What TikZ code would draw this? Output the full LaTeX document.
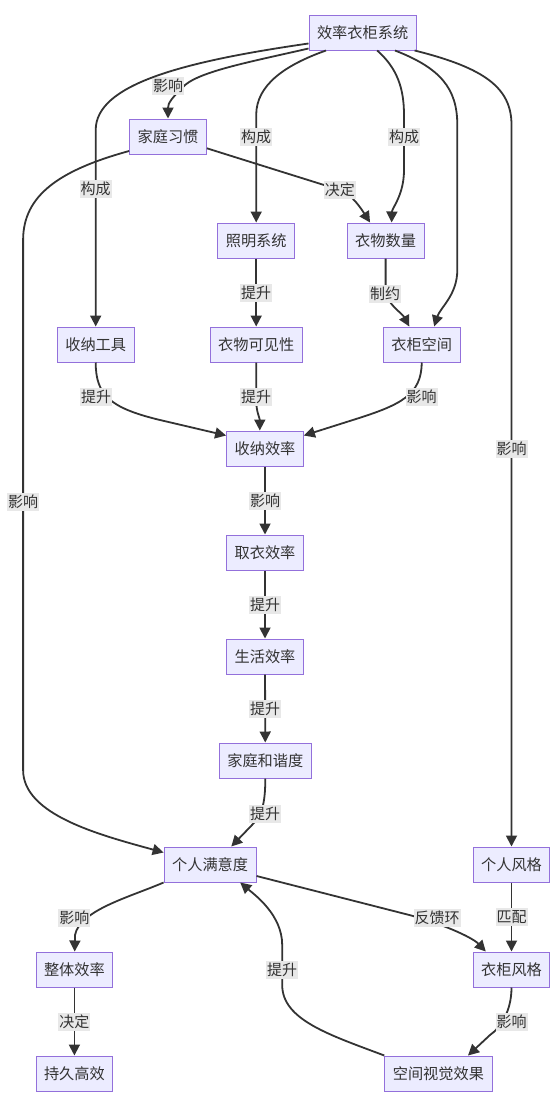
\documentclass[tikz,border=0pt]{standalone}
\usepackage{fontspec}
\newfontfamily\cjk{Noto Sans CJK SC}
\usetikzlibrary{arrows.meta,calc}
\definecolor{nodefill}{HTML}{ECECFF}
\definecolor{nodeborder}{HTML}{9370DB}
\definecolor{edgecol}{HTML}{333333}
\definecolor{lblfill}{HTML}{E8E8E8}
\begin{document}
\begin{tikzpicture}[x=1pt,y=-1pt,
  box/.style={draw=nodeborder, fill=nodefill, line width=1pt, minimum height=35pt,
    inner xsep=8pt, inner ysep=0pt, text=edgecol, font=\cjk\fontsize{15.2}{18}\selectfont},
  lbl/.style={fill=lblfill, inner xsep=1pt, inner ysep=1pt, minimum height=18pt,
    text=edgecol, font=\cjk\fontsize{15}{18}\selectfont},
  link/.style={draw=edgecol, line width=1.8pt, -{Triangle[length=11pt,width=11pt]}}
]
\useasboundingbox (0,0) rectangle (558,1106);

\node[box] (sys) at (362.6,32.5) {效率衣柜系统};
\node[box] (hab) at (168,136.5) {家庭习惯};
\node[box] (light) at (256.2,240.5) {照明系统};
\node[box] (qty) at (385.6,240.5) {衣物数量};
\node[box] (tool) at (95.7,344.5) {收纳工具};
\node[box] (vis) at (256.2,344.5) {衣物可见性};
\node[box] (space) at (421.7,344.5) {衣柜空间};
\node[box] (seff) at (265,448.5) {收纳效率};
\node[box] (teff) at (265,552.5) {取衣效率};
\node[box] (leff) at (265,656.5) {生活效率};
\node[box] (harm) at (265.3,760.5) {家庭和谐度};
\node[box] (sat) at (210.1,864.5) {个人满意度};
\node[box] (pstyle) at (511.5,864.5) {个人风格};
\node[box] (oeff) at (74.4,969.5) {整体效率};
\node[box] (wstyle) at (511.5,969.5) {衣柜风格};
\node[box] (last) at (74.4,1073.5) {持久高效};
\node[box] (visual) at (438.4,1073.5) {空间视觉效果};

% from the system node
\draw[link] ($(sys.south west)+(0,-2)$) .. controls (250,62) and (195,72) .. (182,88)
  .. controls (172,98) and (168,103) .. (168,108) -- (hab)
  node[lbl] at (168.2,86) {影响};
\draw[link] ($(sys.south west)+(0,-7)$) .. controls (180,62) and (95.7,85) .. (95.7,130) -- (tool)
  node[lbl] at (95.7,189) {构成};
\draw[link] ($(sys.south)+(-36.6,0)$) .. controls (285,65) and (256.2,85) .. (256.2,115) -- (light)
  node[lbl] at (256.2,137) {构成};
\draw[link] ($(sys.south)+(14.6,0)$) .. controls (397,68) and (404,88) .. (404,115) -- (404,170)
  .. controls (404,195) and (392,208) .. ($(qty.north)+(6,0)$)
  node[lbl] at (404,137) {构成};
\draw[link] ($(sys.south)+(32.4,0)$) .. controls (440,68) and (457.3,88) .. (457.3,125) -- (457.3,270)
  .. controls (457.3,295) and (440,308) .. ($(space.north)+(12.5,0)$);
\draw[link] ($(sys.south)+(52,0)$) .. controls (485,68) and (511.5,88) .. (511.5,125) -- (pstyle)
  node[lbl] at (511.5,449) {影响};

% from household habits
\draw[link] ($(hab.east)+(0,11.8)$) .. controls (260,165) and (310,180.6) .. (340,190)
  .. controls (352,194) and (362,210) .. ($(qty.north)+(-15.5,0)$)
  node[lbl] at (339.9,190) {决定};
\draw[link] ($(hab.west)+(0,14.5)$) .. controls (60,170) and (23.1,195) .. (23.1,240) -- (23.1,770)
  .. controls (23.1,815) and (100,835) .. ($(sat.west)+(0,-12)$)
  node[lbl] at (23.1,502) {影响};

% second row
\draw[link] (light) -- (vis) node[lbl,midway] {提升};
\draw[link] (qty.south) -- (385.6,292) .. controls (388,305) and (402,313) .. ($(space.north)+(-12.4,0)$)
  node[lbl] at (385,294) {制约};

% into storage efficiency
\draw[link] (tool.south) .. controls (95.7,395) and (110,408) .. (160,420) -- ($(seff.west)+(0,-13)$)
  node[lbl] at (96.2,397) {提升};
\draw[link] (vis.south) -- (256.2,400) .. controls (256.2,412) and (259.8,418) .. ($(seff.north)+(-5.2,0)$)
  node[lbl] at (256.2,397) {提升};
\draw[link] (space.south) .. controls (421.7,395) and (400,405) .. (356,419) -- ($(seff.east)+(0,-13)$)
  node[lbl] at (421.7,397) {影响};

% central chain
\draw[link] (seff) -- (teff) node[lbl,midway] {影响};
\draw[link] (teff) -- (leff) node[lbl,midway] {提升};
\draw[link] (leff) -- (harm) node[lbl,midway] {提升};
\draw[link] (harm.south) .. controls (265.3,800) and (263,815) .. (252,825) -- ($(sat.north)+(21.2,0)$)
  node[lbl] at (265.1,814) {提升};

% lower part
\draw[link] (sat.south west) .. controls (130,897) and (80,910) .. (75,935) -- (oeff)
  node[lbl] at (74.4,918) {影响};
\draw[link] (oeff) -- (last) node[lbl,midway] {决定};
\draw[link] ($(sat.east)+(0,11.5)$) -- (409.3,915) .. controls (440,923) and (472,937) .. ($(wstyle.north)+(-25.7,0)$)
  node[lbl] at (437,918) {反馈环};
\draw[link] (pstyle) -- (wstyle) node[lbl,midway] {匹配};
\draw[link] (wstyle.south) .. controls (511.5,1012) and (500,1028) .. (490,1035) -- ($(visual.north)+(29.6,0)$)
  node[lbl] at (511.5,1022) {影响};
\draw[link] (visual.north west) .. controls (330,1035) and (282.2,1020) .. (282.2,985) -- (282.2,945)
  .. controls (282.2,915) and (255,895) .. ($(sat.south)+(30.1,0)$)
  node[lbl] at (282.2,970) {提升};
\end{tikzpicture}
\end{document}
